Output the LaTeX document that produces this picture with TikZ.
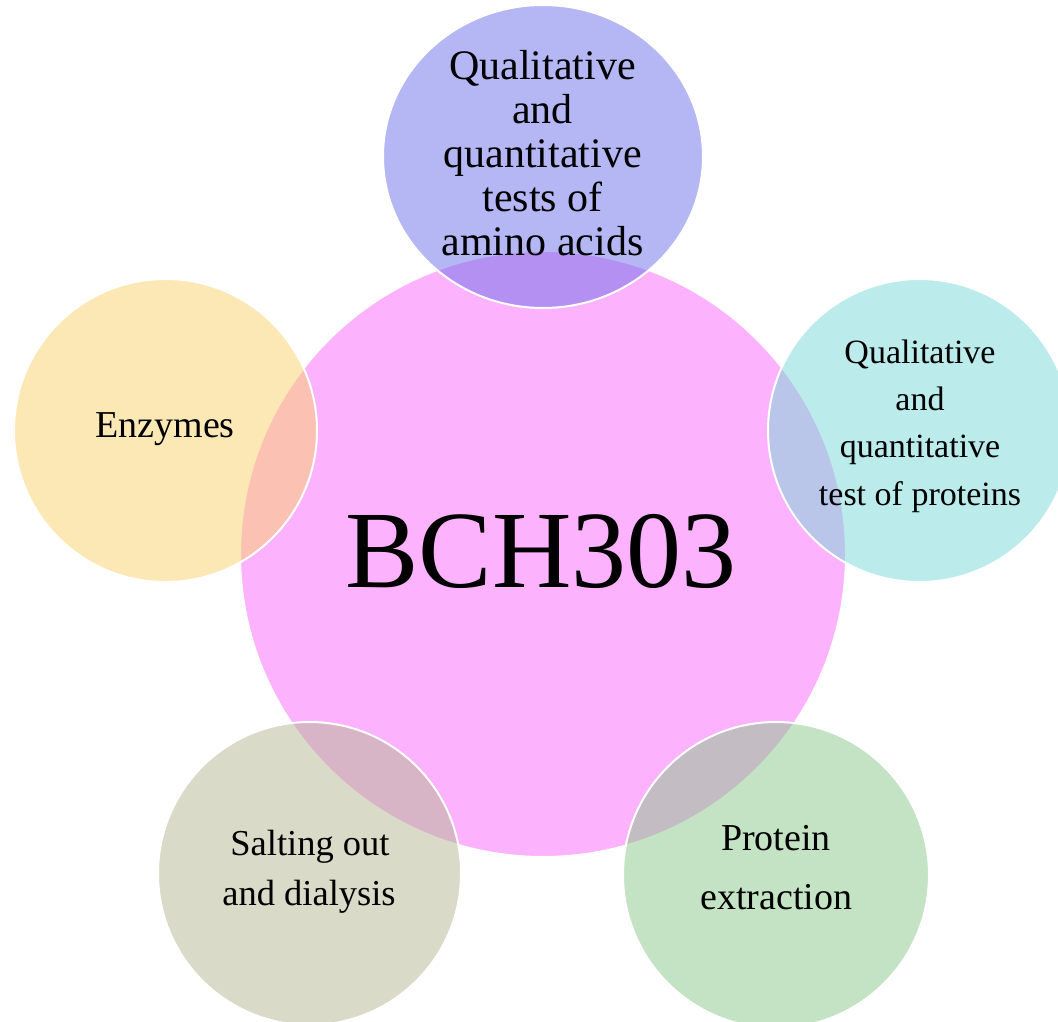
\documentclass[tikz,border=0pt]{standalone}
\usepackage{fontspec}
\setmainfont{Liberation Serif}
\usetikzlibrary{shapes.geometric}
\definecolor{cpink}{RGB}{253,178,253}
\definecolor{clav}{RGB}{109,111,235}
\definecolor{ccyan}{RGB}{121,217,217}
\definecolor{cyel}{RGB}{251,211,107}
\definecolor{cgray}{RGB}{181,183,147}
\definecolor{cgreen}{RGB}{139,201,139}
\begin{document}
\begin{tikzpicture}[x=1pt,y=-1pt,
  hub/.style={circle,inner sep=0pt,minimum size=606pt,fill=cpink,draw=white,line width=2pt},
  sat/.style={circle,inner sep=0pt,minimum size=303pt,fill opacity=0.5,draw=white,draw opacity=1,line width=2pt},
  lbl/.style={anchor=base,inner sep=0pt,text=black}]
\useasboundingbox (0,0) rectangle (1058,1022);
\fill[white] (0,0) rectangle (1058,1022);
\begin{scope}
\clip (0,0) rectangle (1058,1022);
\node[hub] (hub) at (543,554) {};
\node[sat,ellipse,fill=clav,minimum width=320pt,minimum height=303pt] (top) at (543,156.5) {};
\node[sat,fill=ccyan] (right) at (919.5,430.5) {};
\node[sat,fill=cyel] (left) at (165.5,430.5) {};
\node[sat,fill=cgray] (botl) at (309.5,873.5) {};
\node[sat,fill=cgreen,minimum size=306pt] (botr) at (776,875) {};
\end{scope}
% hub label
\node[lbl,font=\fontsize{110}{120}\selectfont] (hubt) at (541,587) {BCH303};
% top labels
\begin{scope}[font=\fontsize{42}{44}\selectfont]
\node[lbl] (top1) at (542.5,80) {Qualitative};
\node[lbl] (top2) at (542.5,123.75) {and};
\node[lbl] (top3) at (542.5,167.5) {quantitative};
\node[lbl] (top4) at (542.5,211.25) {tests of};
\node[lbl] (top5) at (542.5,255) {amino acids};
\end{scope}
% right labels
\begin{scope}[font=\fontsize{34}{36}\selectfont]
\node[lbl] (r1) at (920,363) {Qualitative};
\node[lbl] (r2) at (920,410) {and};
\node[lbl] (r3) at (920,457) {quantitative};
\node[lbl] (r4) at (920,505) {test of proteins};
\end{scope}
% left label
\node[lbl,font=\fontsize{38}{40}\selectfont] (l1) at (165,437) {Enzymes};
% bottom-left labels
\begin{scope}[font=\fontsize{36.5}{40}\selectfont]
\node[lbl] (bl1) at (310,855) {Salting out};
\node[lbl] (bl2) at (309,905) {and dialysis};
\end{scope}
% bottom-right labels
\begin{scope}[font=\fontsize{38}{40}\selectfont]
\node[lbl] (br1) at (776,850) {Protein};
\node[lbl] (br2) at (776.5,909) {extraction};
\end{scope}
\end{tikzpicture}
\end{document}
